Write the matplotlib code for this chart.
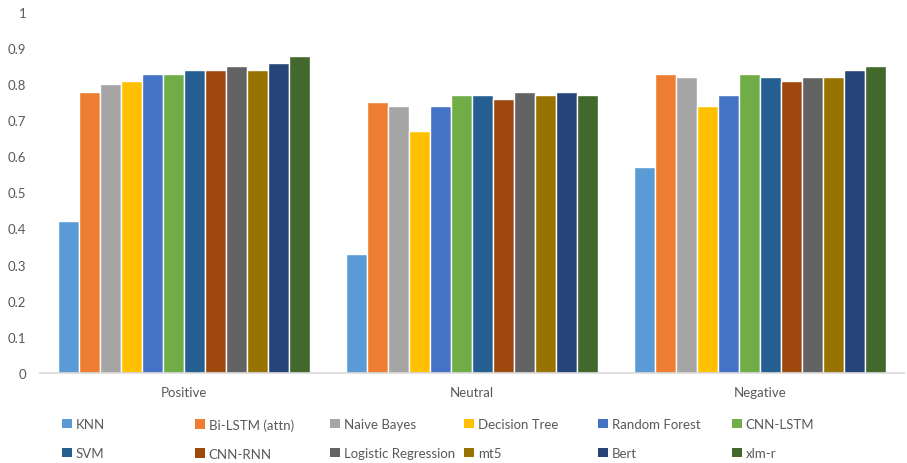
import numpy as np
import matplotlib
matplotlib.use('Agg')
import matplotlib.pyplot as plt
from matplotlib.patches import Patch

plt.rcParams['font.family'] = ['Lato', 'DejaVu Sans']

# data
categories = ['Positive', 'Neutral', 'Negative']
models = ['KNN', 'Bi-LSTM (attn)', 'Naive Bayes', 'Decision Tree', 'Random Forest', 'CNN-LSTM',
          'SVM', 'CNN-RNN', 'Logistic Regression', 'mt5', 'Bert', 'xlm-r']
knn = [0.42, 0.33, 0.57]
bilstm = [0.78, 0.75, 0.83]
naive_bayes = [0.80, 0.74, 0.82]
decision_tree = [0.81, 0.67, 0.74]
random_forest = [0.83, 0.74, 0.77]
cnn_lstm = [0.83, 0.77, 0.83]
svm = [0.84, 0.77, 0.82]
cnn_rnn = [0.84, 0.76, 0.81]
logreg = [0.85, 0.78, 0.82]
mt5 = [0.84, 0.77, 0.82]
bert = [0.86, 0.78, 0.84]
xlmr = [0.88, 0.77, 0.85]
series = [knn, bilstm, naive_bayes, decision_tree, random_forest, cnn_lstm,
          svm, cnn_rnn, logreg, mt5, bert, xlmr]
colors = ['#5B9BD5', '#ED7D31', '#A5A5A5', '#FFC000', '#4472C4', '#70AD47',
          '#255E91', '#9E480E', '#636363', '#997300', '#264478', '#43682B']
yticks = [0, 0.1, 0.2, 0.3, 0.4, 0.5, 0.6, 0.7, 0.8, 0.9, 1]
ytick_labels = ['0', '0.1', '0.2', '0.3', '0.4', '0.5', '0.6', '0.7', '0.8', '0.9', '1']

txt = '#595959'
fig = plt.figure(figsize=(9.07, 4.64), dpi=100)
ax = fig.add_axes([0.0441, 0.195, 0.9526, 0.776])

x = np.arange(len(categories))
group = 0.878
w = group / len(series)
for i, (vals, c) in enumerate(zip(series, colors)):
    ax.bar(x - group / 2 + w * (i + 0.5), vals, width=w, color=c,
           edgecolor='white', linewidth=1.0, label=models[i])

ax.set_xlim(-0.5, 2.5)
ax.set_ylim(0, 1)
ax.set_yticks(yticks)
ax.set_yticklabels(ytick_labels)
ax.set_xticks(x)
ax.set_xticklabels(categories)
ax.tick_params(axis='both', length=0, colors=txt, labelsize=9.5)
ax.tick_params(axis='y', pad=10)
ax.tick_params(axis='x', pad=10)
for s in ['top', 'right', 'left']:
    ax.spines[s].set_visible(False)
ax.spines['bottom'].set_color('#D9D9D9')
ax.spines['bottom'].set_linewidth(1.2)

# legend: 6 columns, 2 rows, evenly spaced
col_x = [62, 195, 330, 464, 598, 732]
for j in range(6):
    hs = [Patch(facecolor=colors[j], edgecolor='none'),
          Patch(facecolor=colors[j + 6], edgecolor='none')]
    leg = fig.legend(hs, [models[j], models[j + 6]], loc='upper left',
                     bbox_to_anchor=(col_x[j] / 907, 1 - 419 / 464),
                     frameon=False, borderpad=0, borderaxespad=0,
                     handlelength=0.75, handleheight=0.75, handletextpad=0.3,
                     labelspacing=1.3, fontsize=9.5, labelcolor=txt)

fig.savefig('out.png', dpi=100)
